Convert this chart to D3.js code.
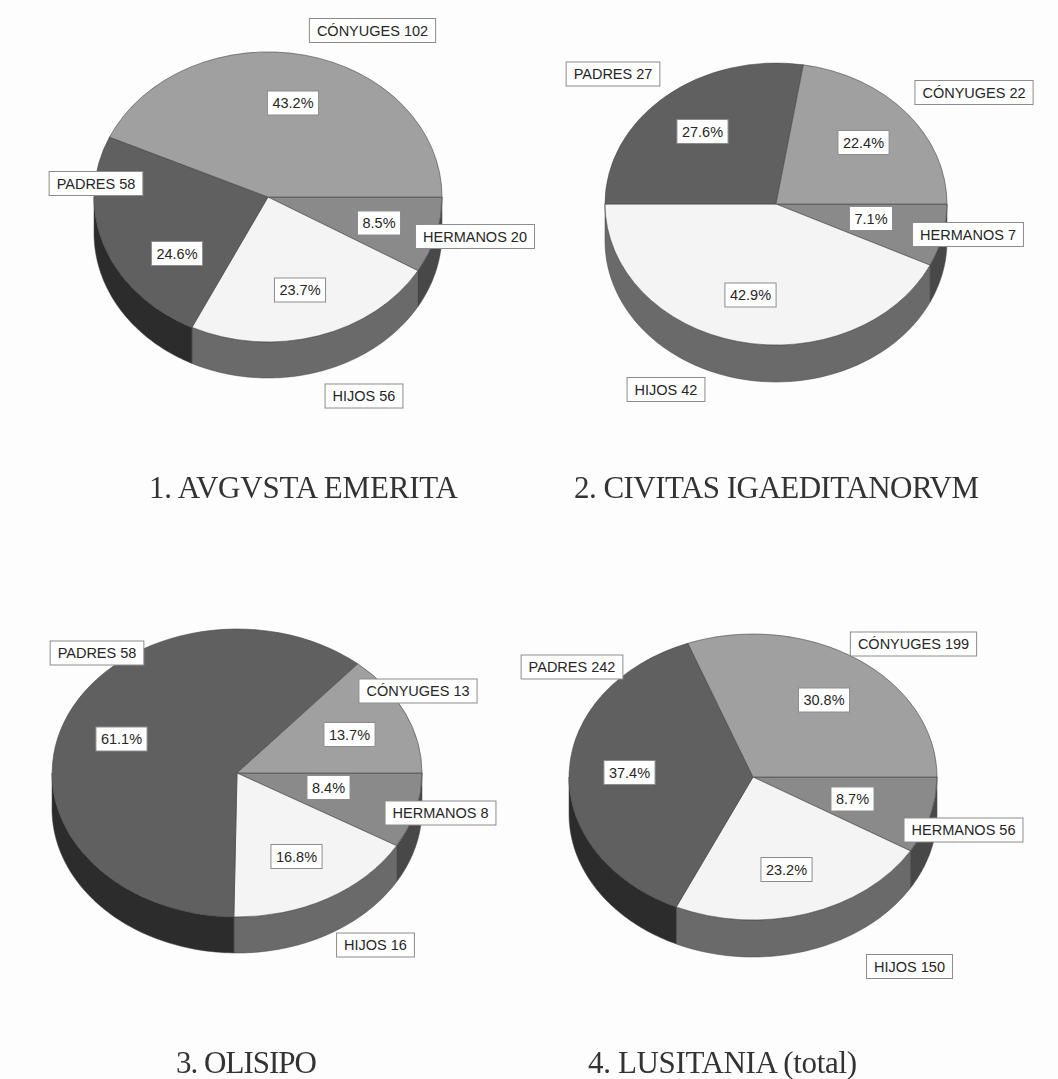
<!DOCTYPE html>
<html>
<head>
<meta charset="utf-8">
<script src="https://cdn.jsdelivr.net/npm/d3@7"></script>
<style>
html, body { margin: 0; padding: 0; background: #fdfdfd; }
svg { display: block; filter: blur(0.45px); }
</style>
</head>
<body>
<div id="chart"></div>
<script>
var width = 1058,
    height = 1079;

// slices run clockwise from 3 o'clock in this order
var categories = ['HERMANOS', 'HIJOS', 'PADRES', 'CÓNYUGES'];
var emerita = [20, 56, 58, 102];
var igaeditanorum = [7, 42, 27, 22];
var olisipo = [8, 16, 58, 13];
var lusitania = [56, 150, 242, 199];
var titles = ['1. AVGVSTA EMERITA', '2. CIVITAS IGAEDITANORVM', '3. OLISIPO', '4. LUSITANIA (total)'];

var topColors = ['#8a8a8a', '#f4f4f4', '#606060', '#a0a0a0'];
var sideColors = ['#484848', '#6a6a6a', '#2c2c2c', '#777777'];

// layout, one entry per pie: centre, radii, depth of the wall, title spot and width
var layout = [
    { cx: 268, cy: 197, rx: 174, ry: 145, depth: 36, titleX: 149, titleY: 498, titleW: 309 },
    { cx: 776, cy: 204, rx: 171, ry: 141, depth: 37, titleX: 574, titleY: 498, titleW: 405 },
    { cx: 237, cy: 773, rx: 185, ry: 144, depth: 36, titleX: 176, titleY: 1073, titleW: 141 },
    { cx: 753, cy: 777, rx: 184, ry: 143, depth: 37, titleX: 588, titleY: 1073, titleW: 269 }
];

// label box centres, in the same order as categories
var namePos = [
    [[475, 236.5], [364, 396], [96, 183.5], [372.5, 30.5]],
    [[968, 234.5], [666, 389.5], [613, 74], [974, 92.5]],
    [[440.5, 813], [375.5, 945], [97, 653], [418, 691]],
    [[963.5, 830], [909.5, 966.5], [572, 667], [913.5, 644]]
];
var pctPos = [
    [[379, 223], [300, 290], [177, 253.5], [293, 103]],
    [[871, 218.5], [750.5, 295], [702.5, 131.5], [863.5, 142.5]],
    [[328.5, 787.5], [296.5, 856.5], [121.5, 739], [349.5, 734.5]],
    [[852.5, 799], [786.5, 869.5], [629.5, 772.5], [824, 700]]
];

var svg = d3
    .select('#chart')
    .append('svg')
    .attr('width', width)
    .attr('height', height);

var pie = d3
    .pie()
    .sort(null)
    .startAngle(Math.PI / 2)
    .endAngle(Math.PI * 2.5);

var arc = d3.arc().innerRadius(0).outerRadius(1);
var pct = d3.format('.1%');

[emerita, igaeditanorum, olisipo, lusitania].forEach(function (values, i) {
    drawPie(values, layout[i], titles[i], namePos[i], pctPos[i]);
});

function drawPie(values, box, title, names, pcts) {
    var x = d3.scaleLinear().domain([-1, 1]).range([box.cx - box.rx, box.cx + box.rx]);
    var y = d3.scaleLinear().domain([-1, 1]).range([box.cy - box.ry, box.cy + box.ry]);
    var total = d3.sum(values);
    var slices = pie(values);
    var g = svg.append('g');

    // wall, only the part of each slice that faces the viewer
    g.selectAll('.side')
        .data(slices)
        .enter()
        .append('path')
        .attr('class', 'side')
        .attr('d', function (d) {
            var a0 = Math.max(d.startAngle, Math.PI / 2),
                a1 = Math.min(d.endAngle, Math.PI * 1.5);
            if (a1 <= a0) return null;
            var steps = d3.range(0, 61).map(function (k) {
                return a0 + (a1 - a0) * k / 60;
            });
            var top = steps.map(function (a) {
                return [x(Math.sin(a)), y(-Math.cos(a))];
            });
            var bottom = steps.slice().reverse().map(function (a) {
                return [x(Math.sin(a)), y(-Math.cos(a)) + box.depth];
            });
            return d3.line()(top.concat(bottom)) + 'Z';
        })
        .attr('fill', function (d) { return sideColors[d.index]; })
        .attr('stroke', '#444')
        .attr('stroke-width', 0.5);

    // top face, unit arcs squashed into the ellipse
    g.append('g')
        .attr('transform', 'translate(' + box.cx + ',' + box.cy + ') scale(' + box.rx + ',' + box.ry + ')')
        .selectAll('.slice')
        .data(slices)
        .enter()
        .append('path')
        .attr('class', 'slice')
        .attr('d', arc)
        .attr('fill', function (d) { return topColors[d.index]; })
        .attr('stroke', '#444')
        .attr('stroke-width', 0.6)
        .attr('vector-effect', 'non-scaling-stroke');

    slices.forEach(function (d) {
        addLabel(pct(d.data / total), pcts[d.index], 5);
    });
    slices.forEach(function (d) {
        addLabel(categories[d.index] + ' ' + d.data, names[d.index], 7.5);
    });

    svg.append('text')
        .attr('x', box.titleX)
        .attr('y', box.titleY)
        .attr('textLength', box.titleW)
        .style('font-family', '"Liberation Serif"')
        .style('font-size', '31px')
        .attr('fill', '#333')
        .text(title);
}

function addLabel(str, pos, pad) {
    var g = svg.append('g').attr('transform', 'translate(' + pos[0] + ',' + pos[1] + ')');
    var rect = g.append('rect');
    var t = g.append('text')
        .attr('text-anchor', 'middle')
        .attr('y', 5)
        .style('font-family', '"Liberation Sans"')
        .style('font-size', '14.5px')
        .attr('fill', '#262626')
        .text(str);
    var w = t.node().getComputedTextLength() + pad * 2;
    rect.attr('x', -w / 2)
        .attr('y', -12)
        .attr('width', w)
        .attr('height', 24)
        .attr('fill', '#fff')
        .attr('stroke', '#8c8c8c')
        .attr('stroke-width', 1);
}
</script>
</body>
</html>
